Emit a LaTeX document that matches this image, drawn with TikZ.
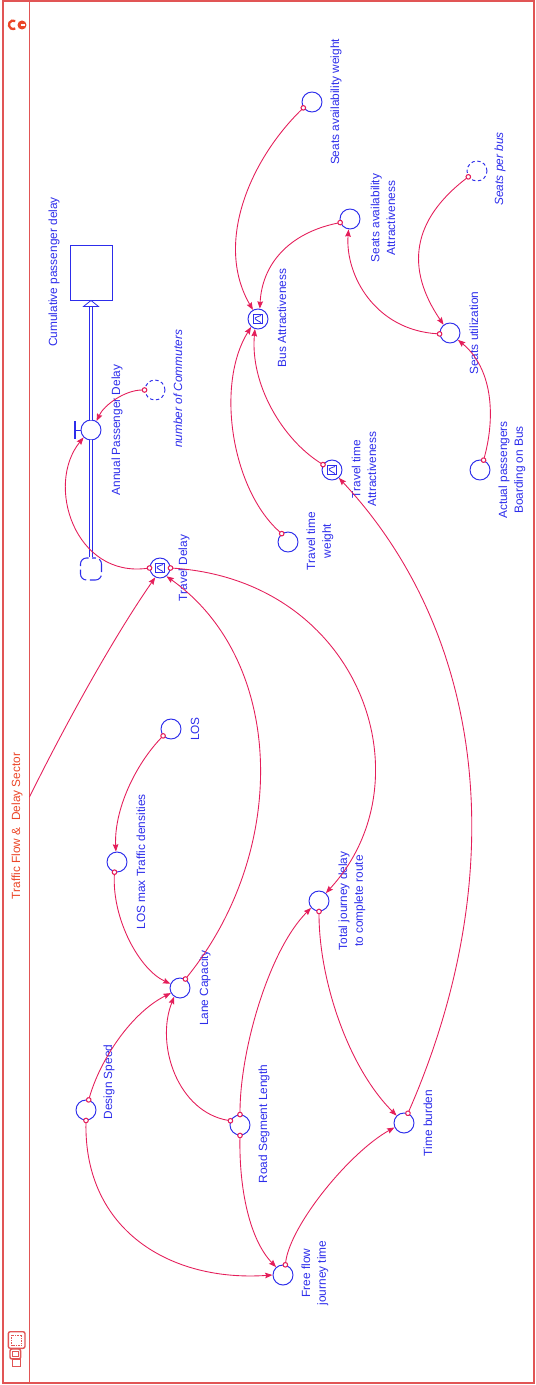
\documentclass[tikz,border=0pt]{standalone}
\usepackage{fontspec}
\setmainfont{Liberation Sans}
\usetikzlibrary{arrows.meta}

\definecolor{varblue}{RGB}{45,45,235}
\definecolor{linkred}{RGB}{228,30,90}
\definecolor{framered}{RGB}{225,85,85}
\definecolor{sectred}{RGB}{235,70,40}

\tikzset{
  conv/.style={circle, draw=varblue, fill=white, line width=0.55pt, minimum size=0.4cm, inner sep=0pt},
  ghost/.style={conv, dash pattern=on 1.9pt off 1.5pt},
  graphconv/.style={conv, path picture={
      \draw[varblue, line width=0.45pt] ([shift={(-0.09cm,-0.09cm)}]path picture bounding box.center)
        rectangle ([shift={(0.09cm,0.09cm)}]path picture bounding box.center);
      \draw[varblue, line width=0.45pt] ([shift={(0.06cm,0.07cm)}]path picture bounding box.center)
        .. controls ([shift={(-0.08cm,0.02cm)}]path picture bounding box.center)
        .. ([shift={(-0.03cm,-0.02cm)}]path picture bounding box.center)
        -- ([shift={(0.06cm,-0.07cm)}]path picture bounding box.center);}},
  stock/.style={draw=varblue, line width=0.55pt, minimum width=0.84cm, minimum height=1.1cm, inner sep=0pt},
  cloudsym/.style={draw=varblue, line width=0.6pt, rounded corners=0.12cm, minimum width=0.42cm,
      minimum height=0.44cm, inner sep=0pt, dash pattern=on 0.27cm off 0.07cm, dash phase=0.2cm},
  pipe/.style={draw=varblue, line width=0.45pt, double=white, double distance=1.4pt},
  lbl/.style={text=varblue, font=\fontsize{6.75}{9}\selectfont, rotate=90, align=center, inner sep=0pt},
  link/.style={draw=linkred, line width=0.5pt,
      {Circle[open,fill=white,length=3.2pt,width=3.2pt,line width=0.6pt]}-{Stealth[length=4.2pt,width=3.2pt,inset=0.6pt]},
      shorten <=-1.6pt},
  arrowonly/.style={draw=linkred, line width=0.5pt, -{Stealth[length=4.2pt,width=3.2pt,inset=0.6pt]}}
}

\begin{document}
\begin{tikzpicture}[x=0.02cm, y=-0.02cm]
\useasboundingbox (0,0) rectangle (535,1385);

% ram
\draw[framered, line width=0.6pt] (3,1) rectangle (534,1383);
\draw[framered, line width=0.6pt] (29.5,1) -- (29.5,1383);
\node[lbl, text=sectred] (sector) at (17,826) {Traffic Flow \&\ \ Delay Sector};
\coordinate (framept) at (29.5,797);

% ikoner
\fill[sectred] (22,25) circle (0.09cm);
\draw[white, line width=0.7pt] (20.5,25) -- (24.5,25);
\draw[sectred, line width=1.3pt] (15.25,21.1) arc[start angle=60, end angle=300, radius=0.085cm];
\draw[framered, line width=0.8pt, rounded corners=0.04cm] (8.3,1331.7) rectangle (25,1348.3);
\draw[framered, line width=0.45pt, dash pattern=on 0.8pt off 0.6pt] (11.7,1335) rectangle (21.7,1345.7);
\draw[framered, line width=0.8pt, rounded corners=0.04cm] (10,1349) rectangle (20.7,1359);
\draw[framered, line width=0.6pt] (12.3,1351.7) rectangle (18.3,1356.7);
\draw[framered, line width=0.8pt] (12.3,1359) rectangle (20.7,1366.7);

% lager och flode
\node[stock] (stock) at (91,272.5) {};
\node[cloudsym] (cloud) at (91,569) {};
\node[conv] (apd) at (91,430) {};
\coordinate (flowtip) at ([yshift=-0.12cm]stock.south);
\draw[pipe] (cloud.north) -- (apd.south);
\draw[pipe] (apd.north) -- (flowtip);
\draw[varblue, fill=white, line width=0.45pt] (stock.south) -- ++(-0.15cm,-0.12cm) -- ++(0.3cm,0) -- cycle;
\coordinate (valvebar) at ([xshift=-0.32cm]apd.center);
\draw[varblue, line width=1.1pt] ([yshift=0.18cm]valvebar) -- ([yshift=-0.18cm]valvebar);
\draw[varblue, line width=0.55pt] (valvebar) -- (apd.west);

% hjalpvariabler
\foreach \n/\x/\y in {saw/312/102, saa/350/219, su/450/333, apb/480/470, ttw/288/542,
    los/171/729, lmtd/117/862, tjd/319/901, lc/180/988, ds/86/1110, rsl/240/1125,
    tb/404/1123, ffjt/283/1275} {
  \node[conv] (\n) at (\x,\y) {};
}
\foreach \n/\x/\y in {ba/258/319, td/160/568, tta/332/470} {
  \node[graphconv] (\n) at (\x,\y) {};
}
\node[ghost] (spb) at (477,171) {};
\node[ghost] (noc) at (155,390) {};

% texter
\foreach \n/\x/\y/\txt in {stock/54/272/{Cumulative passenger delay},
    apd/117/430/{Annual Passenger Delay},
    saw/336/102/{Seats availability weight},
    saa/383/218/{Seats availability\\Attractiveness},
    ba/282/318/{Bus Attractiveness},
    su/474/333/{Seats utilization},
    apb/512/470/{Actual passengers\\Boarding on Bus},
    td/184/568/{Travel Delay},
    tta/364/469/{Travel time\\Attractiveness},
    ttw/320/541/{Travel time\\weight},
    los/195/729/{LOS},
    lmtd/141/862/{LOS max Traffic densities},
    tjd/352/901/{Total journey delay\\to complete route},
    lc/205/988/{Lane Capacity},
    ds/109/1082/{Design Speed},
    rsl/264/1124/{Road Segment Length},
    tb/428/1123/{Time burden},
    ffjt/315/1273/{Free flow\\journey time}} {
  \node[lbl] (\n-l) at (\x,\y) {\txt};
}
\node[lbl, font=\fontsize{6.75}{9}\selectfont\itshape] (spb-l) at (500,169) {Seats per bus};
\node[lbl, font=\fontsize{6.75}{9}\selectfont\itshape] (noc-l) at (178,389) {number of Commuters};

% kopplingar
\draw[link] (saw.214) .. controls (248,162) and (215,245) .. (ba.119);
\draw[link] (saa.200) .. controls (289,233) and (262,264) .. (ba.80);
\draw[link] (spb.214) .. controls (412,220) and (405,268) .. (su.128);
\draw[link] (su.185) .. controls (375,330) and (345,275) .. (saa.262);
\draw[link] (apb.70) .. controls (496,415) and (492,368) .. (su.319);
\draw[link] (tta.149) .. controls (282,439) and (250,384) .. (ba.253);
\draw[link] (ttw.127) .. controls (232,490) and (215,385) .. (ba.229);
\draw[link] (noc.180) .. controls (125,390) and (104,405) .. (apd.58);
\draw[link] (td.180) .. controls (75,578) and (45,485) .. (apd.225);
\draw[link] (td.0) .. controls (360,580) and (430,780) .. (tjd.49);
\draw[link] (lc.59) .. controls (290,850) and (285,660) .. (td.308);
\draw[arrowonly] (framept) .. controls (64,727) and (113,638) .. (td.243);
\draw[link] (tjd.270) .. controls (319,980) and (348,1067) .. (tb.135);
\draw[link] (tb.68) .. controls (510,880) and (490,640) .. (tta.311);
\draw[link] (rsl.90) .. controls (240,1050) and (269,950) .. (tjd.221);
\draw[link] (rsl.156) .. controls (178,1112) and (155,1045) .. (lc.236);
\draw[link] (ds.75) .. controls (100,1060) and (131,1013) .. (lc.209);
\draw[link] (ds.270) .. controls (84,1230) and (170,1282) .. (ffjt.180);
\draw[link] (rsl.270) .. controls (239,1190) and (250,1240) .. (ffjt.131);
\draw[link] (ffjt.77) .. controls (290,1225) and (350,1152) .. (tb.205);
\draw[link] (los.221) .. controls (135,765) and (114,810) .. (lmtd.96);
\draw[link] (lmtd.256) .. controls (112,920) and (140,970) .. (lc.156);

\end{tikzpicture}
\end{document}
